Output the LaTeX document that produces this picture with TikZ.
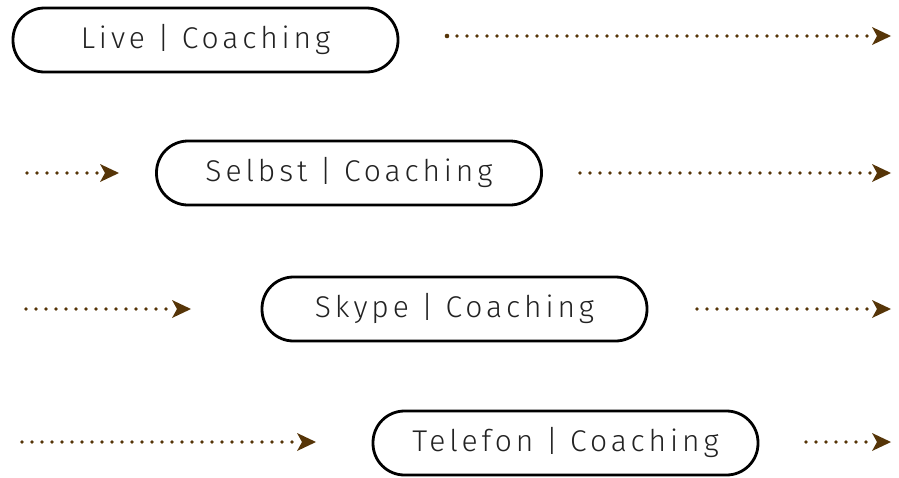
\documentclass[tikz,border=0pt]{standalone}
\usepackage{fontspec}
\newfontfamily\boxfont[LetterSpace=13, UprightFont={* Light}]{Fira Sans}
\usetikzlibrary{arrows.meta}
\definecolor{arrbrown}{HTML}{563508}
\definecolor{txtgray}{HTML}{222222}
\tikzset{
  pill/.style={draw=black, line width=2.8pt, rounded corners=31.5pt, minimum width=385pt, minimum height=64pt, inner sep=0pt, text=txtgray, font=\boxfont\fontsize{30pt}{34pt}\selectfont},
  dotline/.style={arrbrown, line width=3.6pt, line cap=round, dash pattern=on 0pt off 10pt, shorten >=17pt},
  tiphead/.style={fill=arrbrown, draw=none}
}
\newcommand{\dotarrow}[2]{%
  \draw[dotline] (#1) -- (#2);
  \fill[tiphead] (#2) -- ++(-19,-9) -- ++(5,9) -- ++(-5,9) -- cycle;
}
\begin{document}
\begin{tikzpicture}[x=1pt,y=-1pt]
\useasboundingbox (0,0) rectangle (899,477);
\node[pill] (b1) at (205.5,40) {Live | Coaching};
\node[pill] (b2) at (349,173) {Selbst | Coaching};
\node[pill] (b3) at (454.5,309) {Skype | Coaching};
\node[pill] (b4) at (565.5,443) {Telefon | Coaching};
\coordinate (a1s) at (447,36);
\coordinate (a1e) at (891,36);
\coordinate (a2ls) at (27,173);
\coordinate (a2le) at (119,173);
\coordinate (a2rs) at (580,173);
\coordinate (a2re) at (891,173);
\coordinate (a3ls) at (26,309);
\coordinate (a3le) at (191,309);
\coordinate (a3rs) at (697,309);
\coordinate (a3re) at (891,309);
\coordinate (a4ls) at (22,442);
\coordinate (a4le) at (316,442);
\coordinate (a4rs) at (806,442);
\coordinate (a4re) at (891,442);
\dotarrow{a1s}{a1e}
\fill[arrbrown] (a1s) circle (2.3pt);
\dotarrow{a2ls}{a2le}
\dotarrow{a2rs}{a2re}
\dotarrow{a3ls}{a3le}
\dotarrow{a3rs}{a3re}
\dotarrow{a4ls}{a4le}
\dotarrow{a4rs}{a4re}
\end{tikzpicture}
\end{document}
